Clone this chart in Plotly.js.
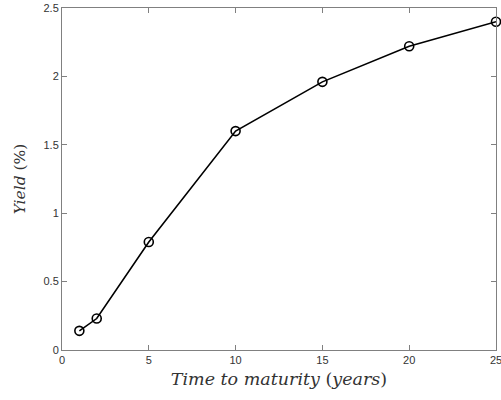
<!DOCTYPE html>
<html>
<head>
<meta charset="utf-8">
<script src="https://cdn.plot.ly/plotly-3.0.1.min.js"></script>
<style>html,body{margin:0;padding:0;background:#fff;}#chart{width:501px;height:400px;}</style>
</head>
<body>
<div id="chart"></div>
<script>
const maturity = [1, 2, 5, 10, 15, 20, 25];
const yieldPct = [0.14, 0.23, 0.79, 1.60, 1.96, 2.22, 2.40];
const xTicks = [0, 5, 10, 15, 20, 25];
const yTicks = [0, 0.5, 1, 1.5, 2, 2.5];
const yTickLabels = ['0', '0.5', '1', '1.5', '2', '2.5'];

const axisCommon = {
  showgrid: false,
  zeroline: false,
  showline: true,
  linecolor: '#808080',
  linewidth: 1,
  mirror: 'allticks',
  ticks: 'inside',
  ticklen: 5,
  tickwidth: 1,
  tickcolor: '#808080',
  ticklabeloverflow: 'allow',
  tickfont: {family: 'Liberation Sans, Arial, sans-serif', size: 11, color: '#333333'}
};

const trace = {
  x: maturity,
  y: yieldPct,
  type: 'scatter',
  mode: 'lines+markers',
  cliponaxis: false,
  line: {color: '#000000', width: 1.6},
  marker: {symbol: 'circle-open', size: 9, color: '#000000', line: {width: 1.6, color: '#000000'}},
  hoverinfo: 'none'
};

const layout = {
  width: 501,
  height: 400,
  margin: {l: 62, r: 5, t: 8, b: 50, pad: 0},
  paper_bgcolor: '#ffffff',
  plot_bgcolor: '#ffffff',
  showlegend: false,
  xaxis: Object.assign({}, axisCommon, {
    range: [0, 25],
    tickvals: xTicks,
    ticktext: xTicks.map(String),
    title: {text: '<i>Time to maturity</i> (<i>years</i>)', font: {family: 'DejaVu Serif, serif', size: 17.5, color: '#333333'}, standoff: 7}
  }),
  yaxis: Object.assign({}, axisCommon, {
    range: [0, 2.5],
    tickvals: yTicks,
    ticktext: yTickLabels,
    title: {text: '<i>Yield</i> (%)', font: {family: 'DejaVu Serif, serif', size: 15.5, color: '#333333'}, standoff: 14}
  })
};

Plotly.newPlot('chart', [trace], layout, {staticPlot: true, displayModeBar: false});
</script>
</body>
</html>
